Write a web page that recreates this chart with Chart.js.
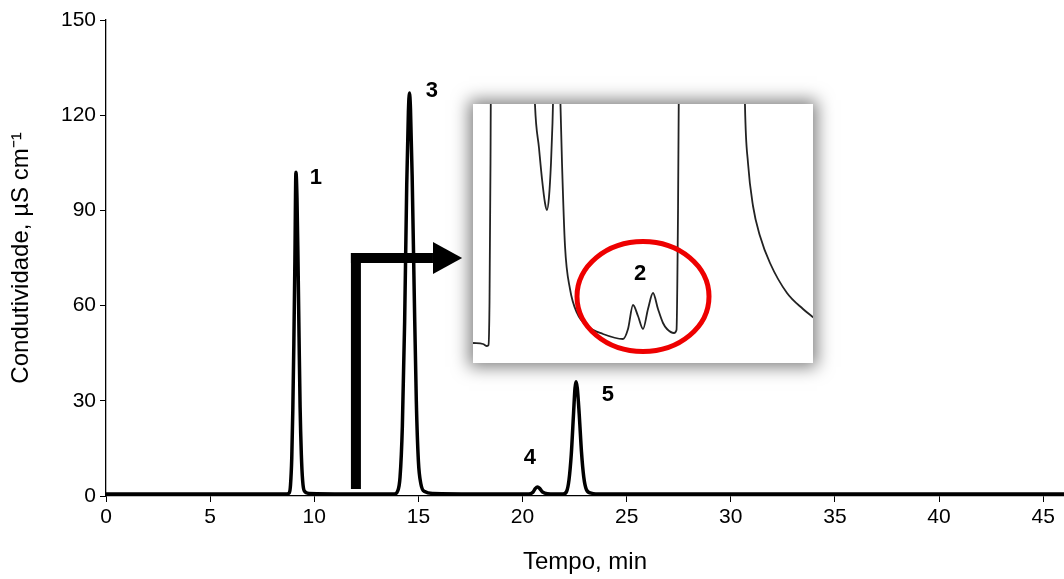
<!DOCTYPE html>
<html>
<head>
<meta charset="utf-8">
<script src="https://cdn.jsdelivr.net/npm/chart.js@4.4.1/dist/chart.umd.min.js"></script>
<style>
  body { margin: 0; background: #fff; }
  #wrap { position: relative; width: 1064px; height: 579px; }
  #main { position: absolute; left: 0; top: 0; }
  #inset { position: absolute; left: 473px; top: 104px; background: #fff;
           box-shadow: 0 0 16px 4px rgba(0,0,0,0.5); }
</style>
</head>
<body>
<div id="wrap">
  <canvas id="main" width="1064" height="579"></canvas>
  <canvas id="inset" width="340" height="259"></canvas>
</div>
<script>
// main chromatogram, time in min / conductivity in uS cm-1
const tempo = [0, 8.65, 8.8, 8.86, 8.92, 8.97, 9.02, 9.07, 9.12, 9.17, 9.22, 9.27, 9.32, 9.38, 9.44, 9.52, 9.75,
  13.85, 14.0, 14.12, 14.23, 14.34, 14.44, 14.52, 14.57, 14.62, 14.7, 14.8, 14.9, 15.0, 15.12, 15.3, 15.7,
  20.3, 20.5, 20.62, 20.72, 20.82, 20.95, 21.2,
  21.95, 22.12, 22.23, 22.34, 22.45, 22.52, 22.57, 22.63, 22.72, 22.83, 22.94, 23.07, 23.3, 23.8, 46];
const condutividade = [0.6, 0.6, 1.0, 3.5, 12, 27, 48, 74, 102, 94, 74, 50, 28, 13, 5, 1.6, 0.8,
  0.6, 1.5, 6, 22, 55, 98, 121, 127, 122, 101, 64, 30, 11, 3.8, 1.4, 0.8,
  0.6, 1.2, 2.4, 2.8, 2.4, 1.3, 0.7,
  0.6, 1.5, 5, 13, 26, 34, 36, 34, 26, 14, 6, 2, 0.9, 0.6, 0.6];

// peak numbers
const picoTexto = ['1', '3', '4', '5'];
const picoTempo = [10.08, 15.65, 20.35, 24.1];
const picoValor = [100.2, 127.6, 12.0, 32.0];

// arrow pointing to the inset
const setaTempo = 12.0, setaBase = 2.2, setaAltura = 75, setaPonta = 17.1, setaCabeca = 15.7;

// inset (zoomed trace), arbitrary units
const zoomX = [0, 10, 14, 15.5, 16.5, 17.5, 18.5, 58, 62, 66, 69, 72, 74, 76, 78, 79.5, 81, 84, 85, 86.5, 87.5, 89, 92, 97,
  104, 114, 130, 150, 155, 160, 165, 170, 175, 180, 185, 190, 194, 201, 203.5, 205, 206, 207, 270, 272, 275, 280, 287,
  297, 314, 330, 341];
const zoomY = [20, 19, 17, 18, 60, 200, 400, 400, 258, 215, 184, 160, 153, 166, 200, 240, 300, 400, 400, 300, 257, 200, 117, 74,
  50, 37, 29, 24, 34, 58, 47, 34, 54, 70, 54, 40, 34, 30, 33, 150, 300, 400, 400, 257, 200, 157, 127,
  100, 70, 54, 45];
const circuloX = 170, circuloY = 66.5, circuloTexto = '2', circuloTextoY = 89;

const fonte = "'Liberation Sans', Arial, sans-serif";

const mainPlugin = {
  id: 'marcas',
  beforeDatasetsDraw(chart) {
    const ctx = chart.ctx, xs = chart.scales.x, ys = chart.scales.y;
    const x = xs.getPixelForValue(setaTempo);
    const yb = ys.getPixelForValue(setaBase);
    const yh = ys.getPixelForValue(setaAltura);
    const xc = xs.getPixelForValue(setaCabeca);
    const xp = xs.getPixelForValue(setaPonta);
    ctx.save();
    ctx.fillStyle = '#000';
    ctx.fillRect(x - 5, yh - 5, 10, yb - yh + 5);
    ctx.fillRect(x - 5, yh - 5, xc - x + 5, 10);
    ctx.beginPath();
    ctx.moveTo(xc, yh - 16);
    ctx.lineTo(xp, yh);
    ctx.lineTo(xc, yh + 16);
    ctx.closePath();
    ctx.fill();
    ctx.restore();
  },
  afterDatasetsDraw(chart) {
    const ctx = chart.ctx, xs = chart.scales.x, ys = chart.scales.y;
    ctx.save();
    ctx.fillStyle = '#000';
    ctx.font = 'bold 22px ' + fonte;
    ctx.textAlign = 'center';
    ctx.textBaseline = 'middle';
    for (let i = 0; i < picoTexto.length; i++) {
      ctx.fillText(picoTexto[i], xs.getPixelForValue(picoTempo[i]), ys.getPixelForValue(picoValor[i]));
    }
    ctx.restore();
  }
};

new Chart(document.getElementById('main'), {
  type: 'line',
  data: {
    datasets: [{
      data: tempo.map((t, i) => ({x: t, y: condutividade[i]})),
      borderColor: '#000',
      borderWidth: 3.5,
      pointRadius: 0,
      cubicInterpolationMode: 'monotone',
      fill: false
    }]
  },
  options: {
    responsive: false,
    animation: false,
    layout: {padding: {top: 20, right: 0, left: 0, bottom: 0}},
    plugins: {legend: {display: false}, tooltip: {enabled: false}},
    scales: {
      x: {
        type: 'linear', min: 0, max: 46,
        ticks: {stepSize: 5, includeBounds: false, color: '#000', maxRotation: 0, padding: 3,
                font: {size: 21, family: fonte}},
        grid: {drawOnChartArea: false, color: '#000', tickColor: '#000', tickLength: 6},
        border: {color: '#000', width: 1.3},
        title: {display: true, text: 'Tempo, min', color: '#000', font: {size: 24, family: fonte},
                padding: {top: 2, bottom: 2}},
        afterFit: s => { s.height = 83; }
      },
      y: {
        min: 0, max: 150,
        ticks: {stepSize: 30, color: '#000', padding: 4, font: {size: 21, family: fonte}},
        grid: {drawOnChartArea: false, color: '#000', tickColor: '#000', tickLength: 6},
        border: {color: '#000', width: 1.3},
        title: {display: true, text: 'Condutividade, µS cm⁻¹', color: '#000', font: {size: 24, family: fonte},
                padding: {top: 7, bottom: 4}},
        afterFit: s => { s.width = 106; }
      }
    }
  },
  plugins: [mainPlugin]
});

const insetPlugin = {
  id: 'circulo',
  afterDatasetsDraw(chart) {
    const ctx = chart.ctx, xs = chart.scales.x, ys = chart.scales.y;
    ctx.save();
    ctx.strokeStyle = '#ee0000';
    ctx.lineWidth = 5;
    ctx.beginPath();
    ctx.ellipse(xs.getPixelForValue(circuloX), ys.getPixelForValue(circuloY), 66, 55, 0, 0, Math.PI * 2);
    ctx.stroke();
    ctx.fillStyle = '#000';
    ctx.font = 'bold 22px ' + fonte;
    ctx.textAlign = 'center';
    ctx.textBaseline = 'middle';
    ctx.fillText(circuloTexto, xs.getPixelForValue(circuloX - 3), ys.getPixelForValue(circuloTextoY));
    ctx.restore();
  }
};

new Chart(document.getElementById('inset'), {
  type: 'line',
  data: {
    datasets: [{
      data: zoomX.map((t, i) => ({x: t, y: zoomY[i]})),
      borderColor: '#222',
      borderWidth: 1.8,
      pointRadius: 0,
      cubicInterpolationMode: 'monotone',
      fill: false
    }]
  },
  options: {
    responsive: false,
    animation: false,
    layout: {padding: 0},
    plugins: {legend: {display: false}, tooltip: {enabled: false}},
    scales: {
      x: {type: 'linear', min: 0, max: 340, display: false},
      y: {min: 0, max: 259, display: false}
    }
  },
  plugins: [insetPlugin]
});
</script>
</body>
</html>
